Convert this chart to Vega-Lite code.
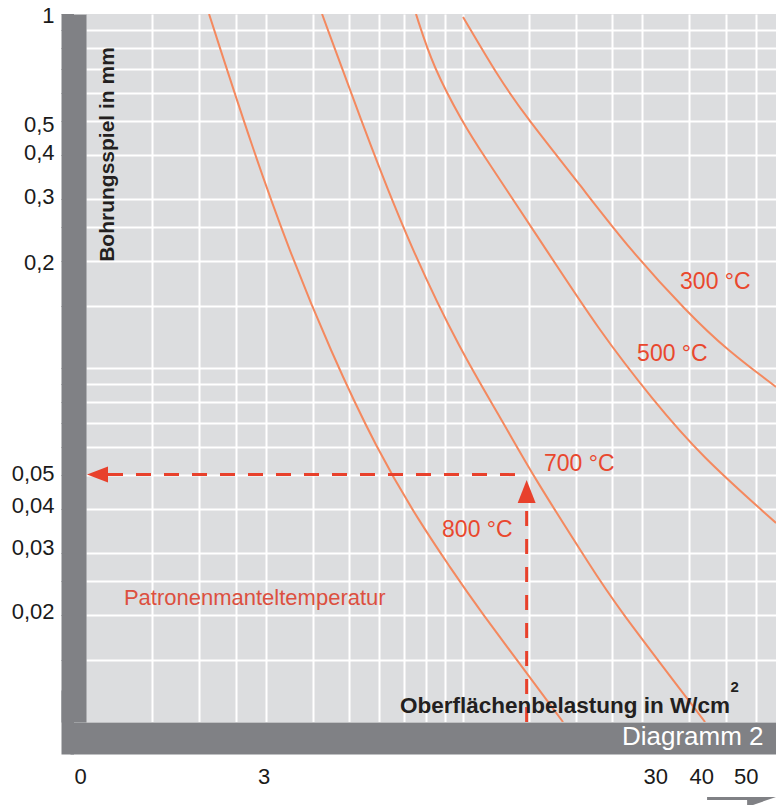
{
  "$schema": "https://vega.github.io/schema/vega-lite/v6.json",
  "width": 690,
  "height": 708,
  "autosize": {"type": "none"},
  "padding": {"left": 86, "top": 14, "right": 0, "bottom": 83},
  "background": "#ffffff",
  "config": {
    "view": {"stroke": null, "fill": "#dcdddf"},
    "axis": {"labelFont": "Liberation Sans", "titleFont": "Liberation Sans"}
  },
  "encoding": {
    "x": {
      "field": "x", "type": "quantitative",
      "scale": {"type": "log", "domain": [1, 68], "nice": false, "zero": false},
      "axis": {
        "orient": "bottom", "offset": 16,
        "values": [1, 1.5, 2, 2.5, 3, 4, 5, 6, 7, 8, 9, 10, 15, 20, 25, 30, 40, 50, 60],
        "domain": true, "domainColor": "#808185", "domainWidth": 32, "domainCap": "square",
        "ticks": true, "tickSize": 0, "tickColor": "#808185",
        "grid": true, "gridColor": "#ffffff", "gridWidth": 2,
        "gridOpacity": {"condition": {"test": "datum.value == 1", "value": 0}, "value": 1},
        "labelExpr": "datum.value == 1 ? '0' : (indexof([3, 30, 40, 50], datum.value) >= 0 ? format(datum.value, 'd') : '')",
        "labelFont": "Liberation Sans", "labelFontSize": 22, "labelColor": "#1a1a1a",
        "labelPadding": 28, "labelFlush": false, "labelOverlap": false, "labelBound": false,
        "labelOffset": {"condition": [
          {"test": "datum.value == 1", "value": -6},
          {"test": "datum.value == 3", "value": -2},
          {"test": "datum.value == 30", "value": 13},
          {"test": "datum.value == 40", "value": 12},
          {"test": "datum.value == 50", "value": 20}
        ], "value": 0},
        "title": "Diagramm 2", "titleColor": "#ffffff", "titleFont": "Liberation Sans",
        "titleFontSize": 26, "titleFontWeight": "normal", "titleAlign": "right",
        "titleBaseline": "alphabetic", "titleAnchor": "end", "titleX": 677, "titleY": 6
      }
    },
    "y": {
      "field": "y", "type": "quantitative",
      "scale": {"type": "log", "domain": [0.01, 1], "nice": false, "zero": false},
      "axis": {
        "orient": "left", "offset": 12.5,
        "values": [1, 0.9, 0.8, 0.7, 0.6, 0.5, 0.4, 0.3, 0.25, 0.2, 0.15, 0.1, 0.09, 0.08, 0.07, 0.06, 0.05, 0.04, 0.03, 0.025, 0.02, 0.015, 0.01],
        "domain": true, "domainColor": "#808185", "domainWidth": 25, "domainCap": "butt",
        "ticks": true, "tickSize": 12.5, "tickColor": "#808185",
        "tickWidth": {"condition": {"test": "datum.value == 0.01", "value": 64}, "value": 1},
        "grid": true, "gridColor": "#ffffff", "gridWidth": 2,
        "gridOpacity": {"condition": {"test": "datum.value == 0.01 || datum.value == 1", "value": 0}, "value": 1},
        "labelExpr": "indexof([1, 0.5, 0.4, 0.3, 0.2, 0.05, 0.04, 0.03, 0.02], datum.value) >= 0 ? replace(format(datum.value, '~g'), '.', ',') : ''",
        "labelFont": "Liberation Sans", "labelFontSize": 22, "labelColor": "#1a1a1a",
        "labelPadding": 7, "labelFlush": false, "labelOverlap": false, "labelBound": false,
        "labelOffset": {"condition": [
          {"test": "datum.value == 1", "value": 1},
          {"test": "datum.value == 0.5", "value": 4},
          {"test": "datum.value == 0.4", "value": -2},
          {"test": "datum.value == 0.3", "value": -3},
          {"test": "datum.value == 0.2", "value": 1},
          {"test": "datum.value == 0.05", "value": -1},
          {"test": "datum.value == 0.04", "value": -3},
          {"test": "datum.value == 0.03", "value": -6},
          {"test": "datum.value == 0.02", "value": -4}
        ], "value": 0},
        "title": "Bohrungsspiel in mm", "titleFont": "Liberation Sans", "titleFontSize": 21,
        "titleFontWeight": "bold", "titleColor": "#231f20", "titleAngle": 270,
        "titleAlign": "center", "titleBaseline": "alphabetic", "titleX": 39.5, "titleY": 140
      }
    }
  },
  "layer": [
    {
      "data": {"values": [
        {"T": "800 °C", "x": 2.122, "y": 1},
        {"T": "800 °C", "x": 2.777, "y": 0.4127},
        {"T": "800 °C", "x": 3.461, "y": 0.2154},
        {"T": "800 °C", "x": 4.447, "y": 0.1124},
        {"T": "800 °C", "x": 5.929, "y": 0.05867},
        {"T": "800 °C", "x": 7.713, "y": 0.03649},
        {"T": "800 °C", "x": 9.378, "y": 0.02688},
        {"T": "800 °C", "x": 10.6, "y": 0.02212},
        {"T": "800 °C", "x": 18.49, "y": 0.01},
        {"T": "700 °C", "x": 4.235, "y": 1},
        {"T": "700 °C", "x": 5.749, "y": 0.4127},
        {"T": "700 °C", "x": 7.341, "y": 0.2154},
        {"T": "700 °C", "x": 9.849, "y": 0.1124},
        {"T": "700 °C", "x": 12.73, "y": 0.0713},
        {"T": "700 °C", "x": 15.39, "y": 0.04952},
        {"T": "700 °C", "x": 22.22, "y": 0.02688},
        {"T": "700 °C", "x": 24.95, "y": 0.02212},
        {"T": "700 °C", "x": 44.07, "y": 0.01},
        {"T": "500 °C", "x": 7.523, "y": 1},
        {"T": "500 °C", "x": 8.349, "y": 0.7083},
        {"T": "500 °C", "x": 10.03, "y": 0.4921},
        {"T": "500 °C", "x": 11.13, "y": 0.4127},
        {"T": "500 °C", "x": 16.06, "y": 0.2299},
        {"T": "500 °C", "x": 23.18, "y": 0.1264},
        {"T": "500 °C", "x": 32.06, "y": 0.08121},
        {"T": "500 °C", "x": 42.74, "y": 0.05677},
        {"T": "500 °C", "x": 68.03, "y": 0.03649},
        {"T": "300 °C", "x": 10.03, "y": 0.9807},
        {"T": "300 °C", "x": 12.58, "y": 0.651},
        {"T": "300 °C", "x": 14.84, "y": 0.5084},
        {"T": "300 °C", "x": 20.52, "y": 0.3288},
        {"T": "300 °C", "x": 27.86, "y": 0.2154},
        {"T": "300 °C", "x": 39.72, "y": 0.143},
        {"T": "300 °C", "x": 50.41, "y": 0.1124},
        {"T": "300 °C", "x": 68.03, "y": 0.08839}
      ]},
      "mark": {"type": "line", "color": "#f4895f", "strokeWidth": 2, "clip": true, "interpolate": "basis"},
      "encoding": {"detail": {"field": "T"}}
    },
    {
      "data": {"values": [
        {"x": 1.144, "x2": 14.8, "y": 0.05, "y2": 0.05},
        {"x": 14.8, "x2": 14.8, "y": 0.01, "y2": 0.04156}
      ]},
      "mark": {"type": "rule", "color": "#e8412c", "strokeWidth": 3, "strokeDash": [15, 13]},
      "encoding": {"x2": {"field": "x2"}, "y2": {"field": "y2"}}
    },
    {
      "data": {"values": [{"x": 1.073, "y": 0.05}]},
      "mark": {"type": "point", "filled": true, "opacity": 1, "color": "#e8412c", "strokeWidth": 0, "size": 441, "shape": "M -1 0 L 1 -0.76 L 1 0.76 Z"},
      "encoding": {}
    },
    {
      "data": {"values": [{"x": 14.8, "y": 0.04478}]},
      "mark": {"type": "point", "filled": true, "opacity": 1, "color": "#e8412c", "strokeWidth": 0, "size": 529, "shape": "M 0 -1 L -0.78 1 L 0.78 1 Z"},
      "encoding": {}
    },
    {
      "data": {"values": [
        {"x": 16.46, "y": 0.05356, "t": "700 °C"},
        {"x": 8.823, "y": 0.03486, "t": "800 °C"},
        {"x": 37.82, "y": 0.1749, "t": "300 °C"},
        {"x": 29.08, "y": 0.1095, "t": "500 °C"}
      ]},
      "mark": {"type": "text", "align": "left", "baseline": "middle", "font": "Liberation Sans", "fontSize": 23, "color": "#e9482e"},
      "encoding": {"text": {"field": "t"}}
    },
    {
      "data": {"values": [{"x": 1.261, "y": 0.0224, "t": "Patronenmanteltemperatur"}]},
      "mark": {"type": "text", "align": "left", "baseline": "middle", "font": "Liberation Sans", "fontSize": 22, "color": "#dc5040"},
      "encoding": {"text": {"field": "t"}}
    },
    {
      "data": {"values": [{"x": 6.823, "y": 0.0106, "t": "Oberflächenbelastung in W/cm"}]},
      "mark": {"type": "text", "align": "left", "baseline": "alphabetic", "font": "Liberation Sans", "fontWeight": "bold", "fontSize": 22.5, "color": "#231f20"},
      "encoding": {"text": {"field": "t"}}
    },
    {
      "data": {"values": [{"x": 51.5, "y": 0.01215, "t": "2"}]},
      "mark": {"type": "text", "align": "left", "baseline": "alphabetic", "font": "Liberation Sans", "fontWeight": "bold", "fontSize": 15, "color": "#231f20"},
      "encoding": {"text": {"field": "t"}}
    },
    {
      "data": {"values": [{"x": 44.61, "x2": 58.02, "y": 0.006079, "y2": 0.006079}]},
      "mark": {"type": "rule", "color": "#808185", "strokeWidth": 3},
      "encoding": {"x2": {"field": "x2"}, "y2": {"field": "y2"}}
    },
    {
      "data": {"values": [{"x": 62.27, "y": 0.005943}]},
      "mark": {"type": "point", "filled": true, "opacity": 1, "color": "#808185", "strokeWidth": 0, "size": 841, "shape": "M -1 -0.35 L 1 -0.35 L -1 0.35 Z"},
      "encoding": {}
    }
  ]
}
